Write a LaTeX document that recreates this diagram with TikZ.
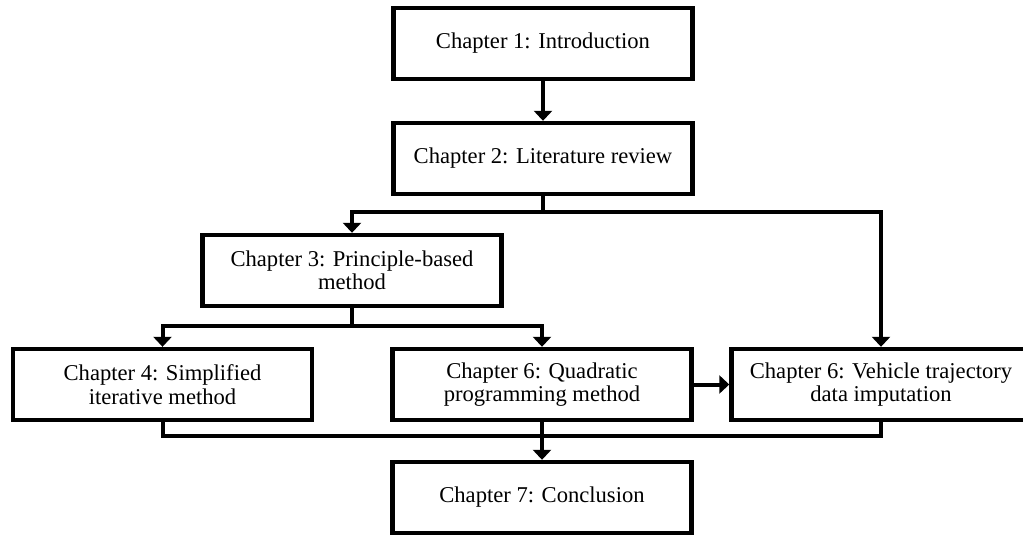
\documentclass[tikz,border=0pt]{standalone}
\usepackage{fontspec}
\setmainfont{Liberation Serif}
\usetikzlibrary{arrows.meta}
\begin{document}
\begin{tikzpicture}[x=0.5pt,y=-0.5pt,
  chap/.style={draw, line width=2.2pt, minimum width=149.5pt, minimum height=35.5pt,
    inner sep=0pt, align=center, font=\fontsize{11.3}{11.7}\selectfont},
  conn/.style={line width=2pt},
  arr/.style={conn, -{Triangle[width=9pt,length=5pt]}}]
\useasboundingbox (0,0) rectangle (1023,537);
\node[chap] (b1) at (543,43.5) {Chapter 1: Introduction};
\node[chap] (b2) at (543,158.5) {Chapter 2: Literature review};
\node[chap] (b3) at (352,270.5) {Chapter 3: Principle-based\\method};
\node[chap] (b4) at (162.5,384.5) {Chapter 4: Simplified\\iterative method};
\node[chap] (b5) at (542,384.5) {Chapter 6: Quadratic\\programming method};
\node[chap] (b6) at (881,384.5) {Chapter 6: Vehicle trajectory\\data imputation};
\node[chap] (b7) at (542,497.5) {Chapter 7: Conclusion};
\coordinate (j1) at (b2.south |- 0,212);
\coordinate (j2) at (b3.south |- 0,326);
\coordinate (j3) at (b5.south |- 0,436);
\draw[arr] (b1) -- (b2);
\draw[conn] (b2.south) -- (j1);
\draw[arr] (j1) -| (b3.north);
\draw[arr] (j1) -| (b6.north);
\draw[conn] (b3.south) -- (j2);
\draw[arr] (j2) -| (b4.north);
\draw[arr] (j2) -| (b5.north);
\draw[arr] (b5.east) -- (b6.west);
\draw[conn] (b4.south) |- (j3);
\draw[conn] (b6.south) |- (j3);
\draw[conn] (b5.south) -- (j3);
\draw[arr] (j3) -- (b7.north);
\end{tikzpicture}
\end{document}
